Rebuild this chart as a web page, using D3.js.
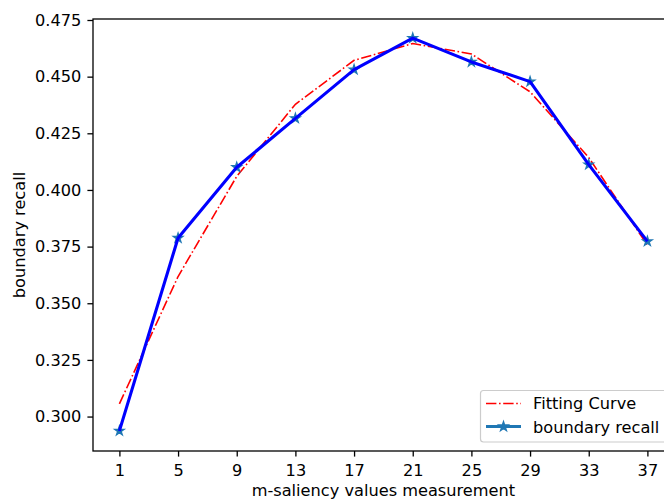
<!DOCTYPE html>
<html>
<head>
<meta charset="utf-8">
<script src="https://cdn.jsdelivr.net/npm/d3@7"></script>
<style>
  html, body { margin: 0; padding: 0; background: #fff; }
  svg { display: block; font-family: "DejaVu Sans", sans-serif; }
</style>
</head>
<body>
<svg id="chart" width="664" height="500"></svg>
<script>
// m-saliency settings on the x axis
const mValues = [1, 5, 9, 13, 17, 21, 25, 29, 33, 37];
// measured boundary recall for each setting
const recallValues = [0.2937, 0.3788, 0.4100, 0.4316, 0.4531, 0.4670, 0.4565, 0.4478, 0.4112, 0.3773];
// fitted curve evaluated at the same settings
const fitValues = [0.3056, 0.3618, 0.4060, 0.4378, 0.4572, 0.4646, 0.4600, 0.4433, 0.4143, 0.3757];
const yTickValues = [0.300, 0.325, 0.350, 0.375, 0.400, 0.425, 0.450, 0.475];

const svg = d3.select("#chart");
const plotLeft = 93, plotRight = 673.8, plotTop = 19, plotBottom = 451;

const x = d3.scaleLinear().domain([-0.8, 38.8]).range([plotLeft, plotRight]);
const y = d3.scaleLinear().domain([0.2848, 0.47544]).range([plotBottom, plotTop]);

const fontSize = 16.2;
const dashDot = "10.4,2.6,1.6,2.6";

// x axis
const xAxis = svg.append("g")
  .attr("transform", `translate(0,${plotBottom})`)
  .call(d3.axisBottom(x).tickValues(mValues).tickFormat(d3.format("d")).tickSizeOuter(0).tickSize(5.6).tickPadding(7.5));
// y axis
const yAxis = svg.append("g")
  .attr("transform", `translate(${plotLeft},0)`)
  .call(d3.axisLeft(y).tickValues(yTickValues).tickFormat(d3.format(".3f")).tickSizeOuter(0).tickSize(5.6).tickPadding(6));

[xAxis, yAxis].forEach(g => {
  g.select(".domain").remove();
  g.selectAll(".tick line").attr("stroke", "#000").attr("stroke-width", 1.3);
  g.selectAll(".tick text").attr("fill", "#000").style("font-size", fontSize + "px")
    .style("font-family", "DejaVu Sans, sans-serif");
});

// axes frame
svg.append("rect")
  .attr("x", plotLeft).attr("y", plotTop)
  .attr("width", plotRight - plotLeft).attr("height", plotBottom - plotTop)
  .attr("fill", "none").attr("stroke", "#000").attr("stroke-width", 1.3);

const plot = svg.append("g");
const lineGen = (vals) => d3.line().x((d, i) => x(mValues[i])).y(d => y(d))(vals);

// fitted curve, red dash-dot
plot.append("path")
  .attr("d", lineGen(fitValues))
  .attr("fill", "none").attr("stroke", "#ff0000").attr("stroke-width", 1.6)
  .attr("stroke-dasharray", dashDot);

// star markers for the measured points
const star = d3.symbol().type(d3.symbolStar).size(26);
plot.selectAll(".pt").data(recallValues).join("path")
  .attr("class", "pt")
  .attr("transform", (d, i) => `translate(${x(mValues[i])},${y(d)})`)
  .attr("d", star)
  .attr("fill", "#1f77b4").attr("stroke", "#1f77b4").attr("stroke-width", 1.4);

// measured recall, solid blue
plot.append("path")
  .attr("d", lineGen(recallValues))
  .attr("fill", "none").attr("stroke", "#0000ff").attr("stroke-width", 3.1)
  .attr("stroke-linejoin", "round");

// axis titles
svg.append("text")
  .attr("x", (plotLeft + plotRight) / 2).attr("y", 496)
  .attr("text-anchor", "middle").style("font-size", fontSize + "px")
  .text("m-saliency values measurement");
svg.append("text")
  .attr("transform", `translate(25,${(plotTop + plotBottom) / 2}) rotate(-90)`)
  .attr("text-anchor", "middle").style("font-size", fontSize + "px")
  .text("boundary recall");

// legend
const lg = svg.append("g");
lg.append("rect")
  .attr("x", 480.5).attr("y", 390.5).attr("width", 200).attr("height", 51.5)
  .attr("rx", 3).attr("fill", "#fff").attr("fill-opacity", 0.8)
  .attr("stroke", "#cccccc").attr("stroke-width", 1.2);
lg.append("line")
  .attr("x1", 486).attr("x2", 521).attr("y1", 403.5).attr("y2", 403.5)
  .attr("stroke", "#ff0000").attr("stroke-width", 1.6)
  .attr("stroke-dasharray", dashDot);
lg.append("line")
  .attr("x1", 486).attr("x2", 521).attr("y1", 426.5).attr("y2", 426.5)
  .attr("stroke", "#1f77b4").attr("stroke-width", 3.1);
lg.append("path")
  .attr("transform", "translate(503.5,426.5)")
  .attr("d", star)
  .attr("fill", "#1f77b4").attr("stroke", "#1f77b4").attr("stroke-width", 1.4);
lg.append("text").attr("x", 533).attr("y", 409).style("font-size", fontSize + "px").text("Fitting Curve");
lg.append("text").attr("x", 533).attr("y", 432.5).style("font-size", fontSize + "px").text("boundary recall");
</script>
</body>
</html>
